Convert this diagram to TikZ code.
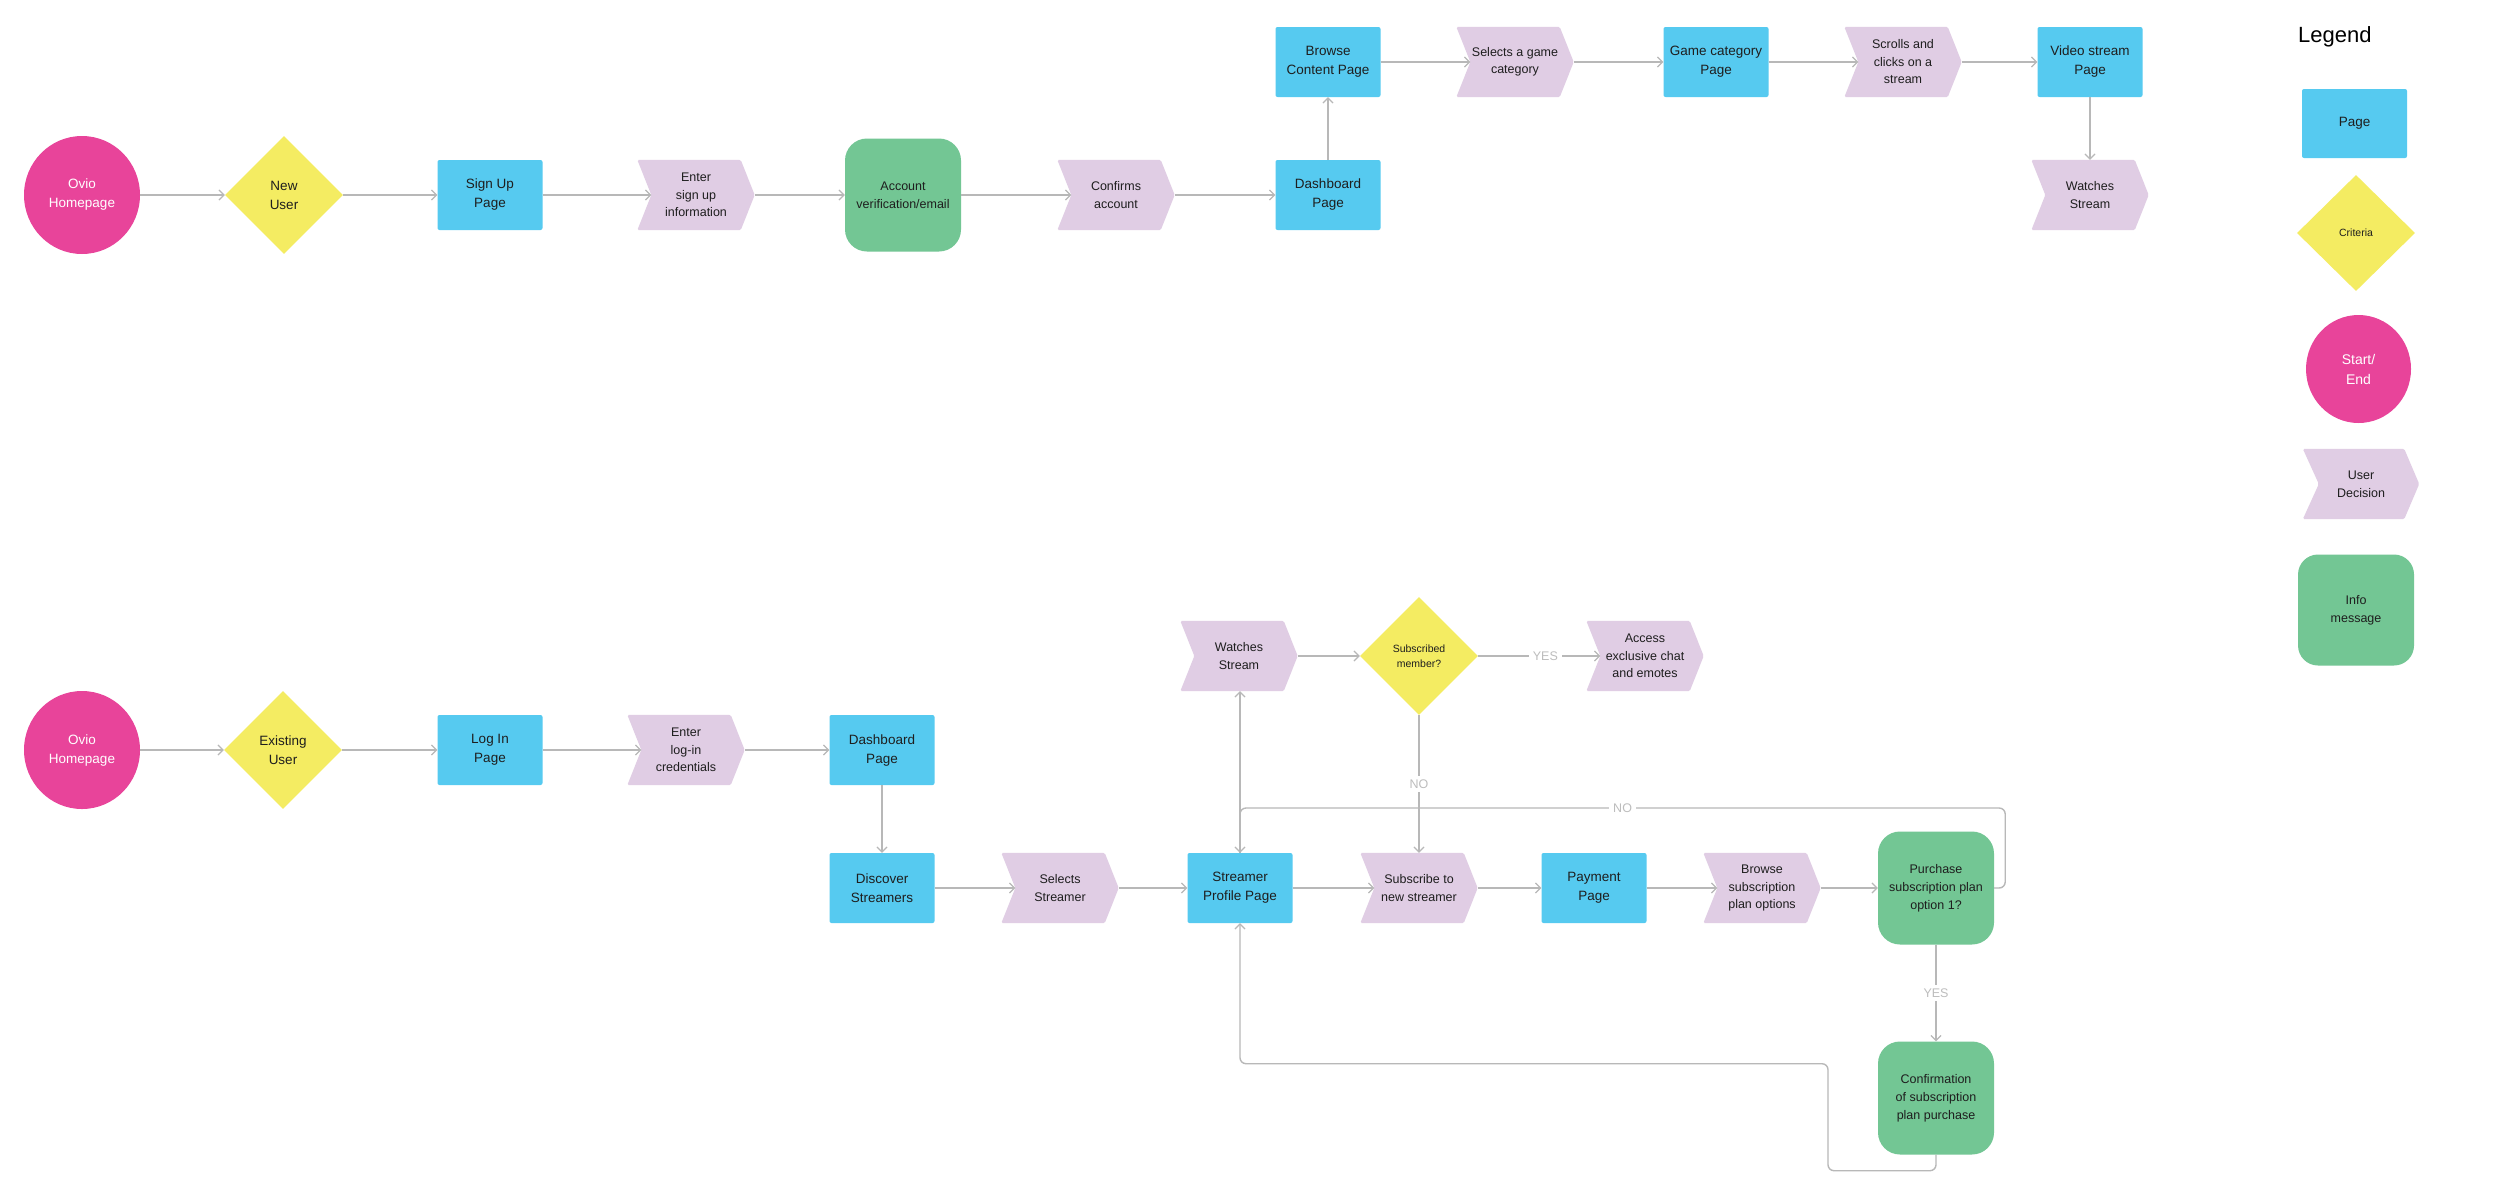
\documentclass[tikz,border=0pt]{standalone}
\usepackage{fontspec}
\setmainfont{Liberation Sans}
\usetikzlibrary{shapes.geometric,arrows.meta,backgrounds,calc}
\definecolor{cpink}{HTML}{E8449A}
\definecolor{cyellow}{HTML}{F4EC62}
\definecolor{cblue}{HTML}{56CAF0}
\definecolor{clav}{HTML}{E0CDE4}
\definecolor{cgreen}{HTML}{73C694}
\definecolor{cline}{HTML}{B8B8B8}
\definecolor{clabel}{HTML}{BDBDBD}
\definecolor{ctext}{HTML}{1E1E1E}
\tikzset{
  base/.style={align=center, text=ctext, inner sep=0pt},
  startnode/.style={base, ellipse, fill=cpink, text=white, minimum width=116, minimum height=118, font=\fontsize{13.5}{19}\selectfont},
  critnode/.style={base, diamond, fill=cyellow, minimum width=118, minimum height=118, font=\fontsize{13.5}{19}\selectfont},
  pagenode/.style={base, rectangle, rounded corners=2pt, fill=cblue, minimum width=105, minimum height=70, font=\fontsize{13.5}{19}\selectfont},
  infonode/.style={base, rectangle, rounded corners=22pt, fill=cgreen, minimum width=116, minimum height=113, font=\fontsize{12.5}{18}\selectfont},
  chevnode/.style={base, rectangle, minimum width=117, minimum height=70, font=\fontsize{12.5}{17.5}\selectfont},
  arr/.style={draw=cline, line width=1.4pt, -{Straight Barb[length=5pt,width=10pt,line width=1.2pt]}},
  lbl/.style={fill=white, text=clabel, inner sep=4pt, font=\fontsize{12.5}{15}\selectfont},
}
\begin{document}
\begin{tikzpicture}[x=1pt,y=-1pt]
\useasboundingbox (0,0) rectangle (2500,1184);

% ---------- Row 1 ----------
\node[startnode] (home1) at (82,195) {Ovio\\Homepage};
\node[critnode] (new) at (284,195) {New\\User};
\node[pagenode] (signup) at (490,195) {Sign Up\\Page};
\node[chevnode] (enter1) at (696,195) {Enter\\sign up\\information};
\node[infonode] (acct) at (903,195) {Account\\verification/email};
\node[chevnode] (confirm) at (1116,195) {Confirms\\account};
\node[pagenode] (dash1) at (1328,195) {Dashboard\\Page};
\node[pagenode] (browse) at (1328,62) {Browse\\Content Page};
\node[chevnode] (selgame) at (1515,62) {Selects a game\\category};
\node[pagenode] (gamecat) at (1716,62) {Game category\\Page};
\node[chevnode] (scrolls) at (1903,62) {Scrolls and\\clicks on a\\stream};
\node[pagenode] (video) at (2090,62) {Video stream\\Page};
\node[chevnode] (watch1) at (2090,195) {Watches\\Stream};

% ---------- Row 2 ----------
\node[startnode] (home2) at (82,750) {Ovio\\Homepage};
\node[critnode] (exist) at (283,750) {Existing\\User};
\node[pagenode] (login) at (490,750) {Log In\\Page};
\node[chevnode] (enter2) at (686,750) {Enter\\log-in\\credentials};
\node[pagenode] (dash2) at (882,750) {Dashboard\\Page};
\node[pagenode] (discover) at (882,888) {Discover\\Streamers};
\node[chevnode] (selstr) at (1060,888) {Selects\\Streamer};
\node[pagenode] (prof) at (1240,888) {Streamer\\Profile Page};
\node[chevnode] (subscr) at (1419,888) {Subscribe to\\new streamer};
\node[pagenode] (pay) at (1594,888) {Payment\\Page};
\node[chevnode] (browsesub) at (1762,888) {Browse\\subscription\\plan options};
\node[infonode] (purch) at (1936,888) {Purchase\\subscription plan\\option 1?};
\node[infonode] (conf) at (1936,1098) {Confirmation\\of subscription\\plan purchase};
\node[chevnode] (watch2) at (1239,656) {Watches\\Stream};
\node[critnode, font=\fontsize{10.5}{15}\selectfont] (subm) at (1419,656) {Subscribed\\member?};
\node[chevnode] (access) at (1645,656) {Access\\exclusive chat\\and emotes};

% ---------- Legend ----------
\node[anchor=base west, inner sep=0pt, text=black, font=\fontsize{22}{26}\selectfont] (legtitle) at (2298,42) {Legend};
\node[pagenode, minimum width=105, minimum height=69] (lpage) at (2354.5,123.5) {Page};
\node[critnode, font=\fontsize{10.5}{13}\selectfont, minimum width=118, minimum height=116] (lcrit) at (2356,233) {Criteria};
\node[startnode, font=\fontsize{14}{20}\selectfont, minimum width=105, minimum height=108] (lstart) at (2358.5,369) {Start/\\End};
\node[chevnode, font=\fontsize{12.5}{18}\selectfont, minimum width=116, minimum height=70] (lchev) at (2361,484) {User\\Decision};
\node[infonode, minimum width=116, minimum height=111, rounded corners=20pt] (linfo) at (2356,610) {Info\\message};

% ---------- background and chevron fills ----------
\begin{scope}[on background layer]
\fill[white] (0,0) rectangle (2500,1184);
\foreach \n in {enter1,confirm,selgame,scrolls,watch1,enter2,selstr,subscr,browsesub,watch2,access}{
  \fill[clav, rounded corners=1.5pt] (\n.north west) -- ([xshift=-14pt]\n.north east) -- (\n.east) -- ([xshift=-14pt]\n.south east) -- (\n.south west) -- ([xshift=14pt]\n.west) -- cycle;
}
\fill[clav, rounded corners=1.5pt] (lchev.north west) -- ([xshift=-15pt]lchev.north east) -- (lchev.east) -- ([xshift=-15pt]lchev.south east) -- (lchev.south west) -- ([xshift=16pt]lchev.west) -- cycle;
\end{scope}

% ---------- Row 1 connectors ----------
\draw[arr] (home1.east) -- (new.west);
\draw[arr] (new.east) -- (signup.west);
\draw[arr] (signup.east) -- ([xshift=14pt]enter1.west);
\draw[arr] (enter1.east) -- (acct.west);
\draw[arr] (acct.east) -- ([xshift=14pt]confirm.west);
\draw[arr] (confirm.east) -- (dash1.west);
\draw[arr] (dash1.north) -- (browse.south);
\draw[arr] (browse.east) -- ([xshift=14pt]selgame.west);
\draw[arr] (selgame.east) -- (gamecat.west);
\draw[arr] (gamecat.east) -- ([xshift=14pt]scrolls.west);
\draw[arr] (scrolls.east) -- (video.west);
\draw[arr] (video.south) -- (watch1.north);

% ---------- Row 2 connectors ----------
\draw[arr] (home2.east) -- (exist.west);
\draw[arr] (exist.east) -- (login.west);
\draw[arr] (login.east) -- ([xshift=14pt]enter2.west);
\draw[arr] (enter2.east) -- (dash2.west);
\draw[arr] (dash2.south) -- (discover.north);
\draw[arr] (discover.east) -- ([xshift=14pt]selstr.west);
\draw[arr] (selstr.east) -- (prof.west);
\draw[arr] (prof.east) -- ([xshift=14pt]subscr.west);
\draw[arr] (subscr.east) -- (pay.west);
\draw[arr] (pay.east) -- ([xshift=14pt]browsesub.west);
\draw[arr] (browsesub.east) -- (purch.west);
\draw[arr] (prof.north) -- (prof.north |- watch2.south);
\draw[arr] (watch2.east) -- (subm.west);
\draw[arr] (subm.east) -- node[lbl, pos=0.55]{YES} ([xshift=14pt]access.west);
\draw[arr] (subm.south) -- node[lbl]{NO} (subm.south |- subscr.north);
\draw[arr] (purch.south) -- node[lbl]{YES} (conf.north);
\draw[arr, rounded corners=6pt] (purch.east) -- ++(11,0) -- ++(0,-80) -| node[lbl, pos=0.25]{NO} (prof.north);
\draw[arr, rounded corners=6pt] (conf.south) -- ++(0,16) -- ++(-108,0) -- ++(0,-107) -| (prof.south);
\end{tikzpicture}
\end{document}
